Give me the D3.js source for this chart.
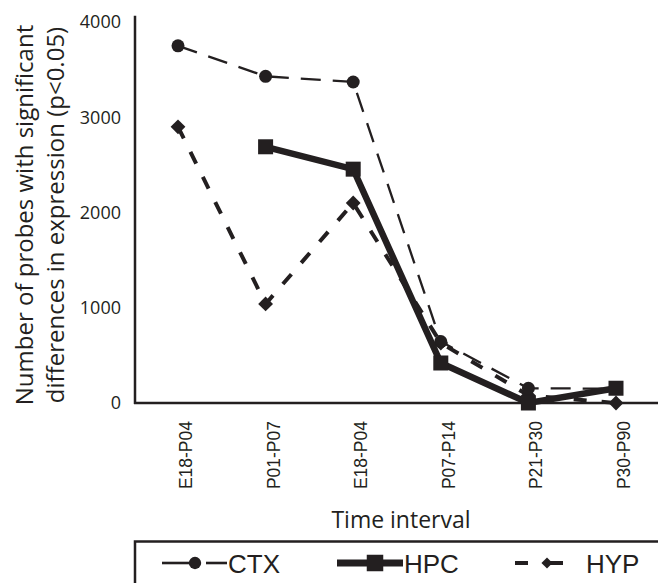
<!DOCTYPE html>
<html>
<head>
<meta charset="utf-8">
<script src="https://cdn.jsdelivr.net/npm/d3@7.9.0/dist/d3.min.js"></script>
<style>
  body { margin: 0; background: #fff; }
  svg { display: block; }
</style>
</head>
<body>
<svg id="chart" width="658" height="583"></svg>
<script>
// data
const intervals = ['E18-P04', 'P01-P07', 'E18-P04', 'P07-P14', 'P21-P30', 'P30-P90'];
const ctx = [3750, 3430, 3370, 645, 155, 150];
const hpc = [null, 2690, 2455, 420, 0, 155];
const hyp = [2900, 1040, 2100, 630, 80, 0];
const yTicks = [0, 1000, 2000, 3000, 4000];

const ink = '#231f20';
const svg = d3.select('#chart');

const x = d3.scalePoint()
  .domain(d3.range(intervals.length))
  .range([178, 616]);

const y = d3.scaleLinear()
  .domain([0, 4000])
  .range([403, 22]);

// axes lines
svg.append('line')
  .attr('x1', 135).attr('x2', 135)
  .attr('y1', y(4065)).attr('y2', y(0) + 1)
  .attr('stroke', ink).attr('stroke-width', 2.5);
svg.append('line')
  .attr('x1', 134).attr('x2', 660)
  .attr('y1', y(0)).attr('y2', y(0))
  .attr('stroke', ink).attr('stroke-width', 2.5);

// y axis ticks (labels only)
let yAxis = svg.append('g')
  .attr('transform', 'translate(135,0)')
  .call(d3.axisLeft(y).tickValues(yTicks).tickSize(0).tickPadding(14).tickFormat(d3.format('d')));
yAxis.select('.domain').remove();
yAxis.selectAll('text')
  .attr('font-family', '"Open Sans", sans-serif')
  .attr('font-size', 18)
  .attr('fill', ink);

// x axis labels, rotated
let xAxis = svg.append('g')
  .attr('transform', `translate(0,${y(0)})`)
  .call(d3.axisBottom(x).tickSize(0).tickFormat(i => intervals[i]));
xAxis.select('.domain').remove();
xAxis.selectAll('text')
  .attr('font-family', '"Liberation Sans", Arial, sans-serif')
  .attr('font-size', 17.5)
  .attr('fill', ink)
  .attr('text-anchor', 'end')
  .attr('transform', 'translate(13.5,18) rotate(-90)')
  .attr('x', 0).attr('y', 0).attr('dy', 0);

// axis titles
svg.append('text')
  .attr('x', 401).attr('y', 528)
  .attr('text-anchor', 'middle')
  .attr('font-family', '"Open Sans", sans-serif')
  .attr('font-size', 23)
  .attr('fill', ink)
  .text('Time interval');

let yTitle = svg.append('text')
  .attr('transform', 'translate(0,215) rotate(-90)')
  .attr('text-anchor', 'middle')
  .attr('font-family', '"Open Sans", sans-serif')
  .attr('font-size', 24)
  .attr('fill', ink);
yTitle.append('tspan').attr('x', 0).attr('y', 33).text('Number of probes with significant');
yTitle.append('tspan').attr('x', 0).attr('y', 64).text('differences in expression (p<0.05)');

// lines
const line = d3.line()
  .defined(d => d != null)
  .x((d, i) => x(i))
  .y(d => y(d));

const series = [
  { name: 'HYP', values: hyp, width: 4, dash: '13,15', marker: 'diamond' },
  { name: 'CTX', values: ctx, width: 2.3, dash: '20,12', marker: 'circle' },
  { name: 'HPC', values: hpc, width: 6.5, dash: null, marker: 'square' }
];

function drawMarker(g, type, cx, cy, s) {
  if (type === 'circle') {
    g.append('circle').attr('cx', cx).attr('cy', cy).attr('r', 6.5 * s).attr('fill', ink);
  } else if (type === 'square') {
    g.append('rect')
      .attr('x', cx - 7.5 * s).attr('y', cy - 7.5 * s)
      .attr('width', 15 * s).attr('height', 15 * s)
      .attr('fill', ink);
  } else {
    let r = 7.4 * s;
    g.append('path')
      .attr('d', `M${cx},${cy - r}L${cx + r},${cy}L${cx},${cy + r}L${cx - r},${cy}Z`)
      .attr('fill', ink);
  }
}

series.forEach(s => {
  let g = svg.append('g');
  g.append('path')
    .attr('d', line(s.values))
    .attr('fill', 'none')
    .attr('stroke', ink)
    .attr('stroke-width', s.width)
    .attr('stroke-dasharray', s.dash)
    .attr('stroke-linejoin', 'miter');
  s.values.forEach((v, i) => {
    if (v != null) drawMarker(g, s.marker, x(i), y(v), 1);
  });
});

// legend
let legend = svg.append('g');
legend.append('rect')
  .attr('x', 135).attr('y', 541.5)
  .attr('width', 600).attr('height', 100)
  .attr('fill', 'none')
  .attr('stroke', ink)
  .attr('stroke-width', 2.5);

// each sample is a few segments plus a marker
const legendItems = [
  { name: 'CTX', segs: [[162, 192], [206, 227]], mx: 195, tx: 228, width: 2.6, marker: 'circle', ms: 0.95 },
  { name: 'HPC', segs: [[337, 403]], mx: 375, tx: 404, width: 7, marker: 'square', ms: 1.1 },
  { name: 'HYP', segs: [[515, 528], [547, 563]], mx: 547, tx: 586, width: 4, marker: 'diamond', ms: 0.75 }
];

legendItems.forEach(d => {
  d.segs.forEach(([a, b]) => {
    legend.append('line')
      .attr('x1', a).attr('x2', b)
      .attr('y1', 563).attr('y2', 563)
      .attr('stroke', ink)
      .attr('stroke-width', d.width);
  });
  drawMarker(legend, d.marker, d.mx, 563, d.ms);
  legend.append('text')
    .attr('x', d.tx).attr('y', 573)
    .attr('font-family', '"Liberation Sans", Arial, sans-serif')
    .attr('font-size', 26)
    .attr('fill', ink)
    .text(d.name);
});
</script>
</body>
</html>
